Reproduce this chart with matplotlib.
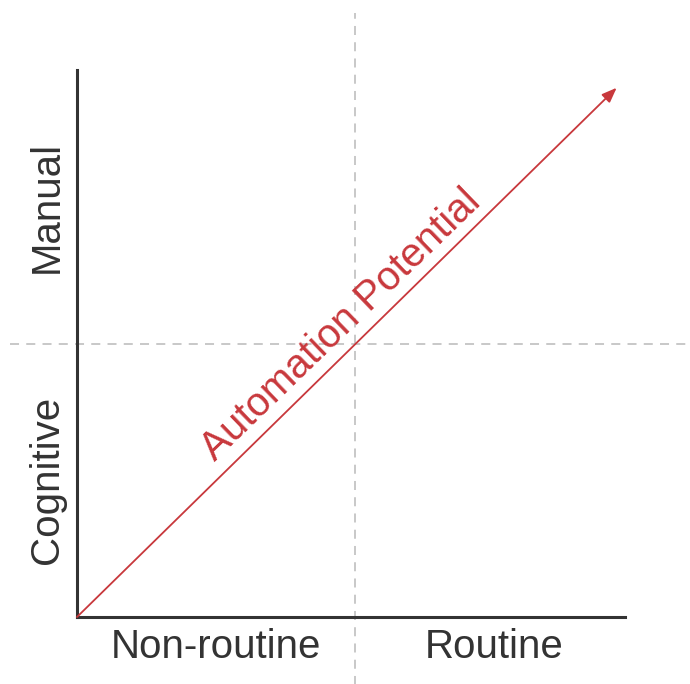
import matplotlib.pyplot as plt

# quadrant layout (split at 1 on both axes)
x_labels = ["Non-routine", "Routine"]
y_labels = ["Cognitive", "Manual"]
label_pos = [0.5, 1.5]
split = 1.0
arrow_start = (0.0, 0.0)
arrow_end = (1.94, 1.935)
arrow_text = "Automation Potential"

text_col = "#333333"
red = "#c8383c"

fig = plt.figure(figsize=(6.9, 6.84), dpi=100)
ax = fig.add_axes([77 / 690, 67 / 684, 548 / 690, 547 / 684])
ax.set_xlim(0, 1.97)
ax.set_ylim(0, 2)

for s in ["top", "right"]:
    ax.spines[s].set_visible(False)
for s in ["left", "bottom"]:
    ax.spines[s].set_color(text_col)
    ax.spines[s].set_linewidth(2.2)

ax.set_xticks(label_pos)
ax.set_xticklabels(x_labels, fontsize=29, color=text_col, family="Liberation Sans")
ax.set_yticks(label_pos)
ax.set_yticklabels(y_labels, fontsize=29, color=text_col, family="Liberation Sans",
                   rotation=90, va="center")
ax.tick_params(length=0, pad=8)

# dashed quadrant lines, running past the axes
ax.plot([split, split], [-0.25, 2.21], ls=(0, (5, 4)), color="#c4c4c4", lw=1.3, clip_on=False)
ax.plot([-0.24, 2.21], [split, split], ls=(0, (5, 4)), color="#c4c4c4", lw=1.3, clip_on=False)

ax.annotate("", xy=arrow_end, xytext=arrow_start,
            arrowprops=dict(arrowstyle="-|>,head_length=0.9,head_width=0.35",
                            color=red, lw=1.3, shrinkA=0, shrinkB=0))

ax.text(0.496, 0.567, arrow_text, rotation=44, rotation_mode="anchor",
        ha="left", va="baseline", fontsize=29, color=red, family="Liberation Sans")

fig.savefig("out.png", dpi=100)
